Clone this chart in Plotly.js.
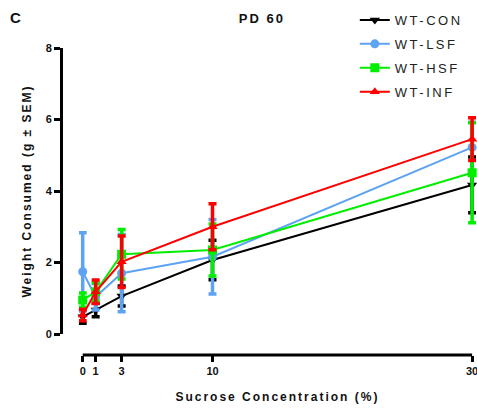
<!DOCTYPE html>
<html>
<head>
<meta charset="utf-8">
<script src="https://cdn.plot.ly/plotly-3.0.1.min.js"></script>
<style>
  html, body { margin: 0; padding: 0; background: #fff; }
  #chart { width: 477px; height: 409px; }
  text.legendtext { letter-spacing: 2.5px !important; }
  text.gtitle, text.xtitle, text.ytitle { letter-spacing: 2px !important; }
</style>
</head>
<body>
<div id="chart"></div>
<script>
// Sucrose concentration (%)
const sucrose = [0, 1, 3, 10, 30];

// Mean weight consumed (g) and SEM per group
const wtCon    = [0.48, 0.67, 1.06, 2.07, 4.17];
const wtConSem = [0.18, 0.19, 0.28, 0.55, 0.78];

const wtLsf    = [1.74, 1.04, 1.70, 2.16, 5.22];
const wtLsfSem = [1.09, 0.37, 1.08, 1.04, 0.70];

const wtHsf    = [0.95, 1.18, 2.23, 2.35, 4.51];
const wtHsfSem = [0.20, 0.25, 0.69, 0.73, 1.40];

const wtInf    = [0.53, 1.18, 2.02, 3.00, 5.45];
const wtInfSem = [0.16, 0.33, 0.72, 0.64, 0.60];

const groupNames = ['WT-CON', 'WT-LSF', 'WT-HSF', 'WT-INF'];
const xTicks = [0, 1, 3, 10, 30];
const yTicks = [0, 2, 4, 6, 8];

function series(name, y, sem, color, symbol) {
  return {
    x: sucrose, y: y, name: name, type: 'scatter', mode: 'lines+markers',
    legendgroup: name,
    cliponaxis: false,
    line: { color: color, width: 2 },
    marker: { color: color, symbol: symbol, size: 9 },
    error_y: { type: 'data', array: sem, visible: true, color: color, thickness: 3.5, width: 4 }
  };
}

const traces = [
  series(groupNames[0], wtCon, wtConSem, '#000000', 'triangle-down'),
  series(groupNames[1], wtLsf, wtLsfSem, '#5ea3f2', 'circle'),
  series(groupNames[2], wtHsf, wtHsfSem, '#00ee00', 'square'),
  series(groupNames[3], wtInf, wtInfSem, '#ff0000', 'triangle-up')
];

const font = { family: 'Liberation Sans, Arial, sans-serif', color: '#111' };

const layout = {
  width: 477, height: 409,
  margin: { l: 61, r: 1, t: 48, b: 54 },
  paper_bgcolor: '#fff', plot_bgcolor: '#fff',
  showlegend: true,
  font: font,
  title: {
    text: '<b>PD 60</b>', x: 0.549, xanchor: 'center', y: 0.955, yanchor: 'middle',
    font: { family: font.family, size: 13, color: '#111' }
  },
  xaxis: {
    domain: [0.0429, 1], range: [-0.3, 30.3], anchor: 'free', position: 0,
    tickvals: xTicks, ticktext: xTicks.map(String),
    ticklabeloverflow: 'allow',
    showgrid: false, zeroline: false, showline: false,
    ticks: 'outside', ticklen: 6, tickwidth: 3, tickcolor: '#000',
    tickfont: { family: font.family, size: 11, color: '#111', weight: 'bold' },
    title: { text: '<b>Sucrose Concentration (%)</b>', standoff: 16,
             font: { family: font.family, size: 12, color: '#111' } }
  },
  yaxis: {
    domain: [0.0684, 1], range: [0, 8], anchor: 'free', position: 0,
    tickvals: yTicks,
    showgrid: false, zeroline: false, showline: true, linecolor: '#000', linewidth: 3,
    ticks: 'outside', ticklen: 6, tickwidth: 3, tickcolor: '#000',
    tickfont: { family: font.family, size: 11, color: '#111', weight: 'bold' },
    title: { text: '<b>Weight Consumed (g ± SEM)</b>', standoff: 10,
             font: { family: font.family, size: 12, color: '#111' } }
  },
  // x-axis baseline spans only the sampled concentrations (0–30 %)
  shapes: [{
    type: 'line', xref: 'x', yref: 'paper',
    x0: xTicks[0], x1: xTicks[xTicks.length - 1], y0: 0, y1: 0,
    line: { color: '#000', width: 3 }
  }],
  legend: {
    x: 0.708, xanchor: 'left', y: 1.14, yanchor: 'top',
    bgcolor: 'rgba(0,0,0,0)', traceorder: 'grouped', tracegroupgap: 4,
    itemwidth: 30,
    font: { family: font.family, size: 13, color: '#222' }
  },
  annotations: [{
    text: '<b>C</b>', xref: 'paper', yref: 'paper', x: -0.109, y: 1.10,
    xanchor: 'center', yanchor: 'middle', showarrow: false,
    font: { family: font.family, size: 15, color: '#111' }
  }]
};

Plotly.newPlot('chart', traces, layout, { displayModeBar: false, staticPlot: true });
</script>
</body>
</html>
